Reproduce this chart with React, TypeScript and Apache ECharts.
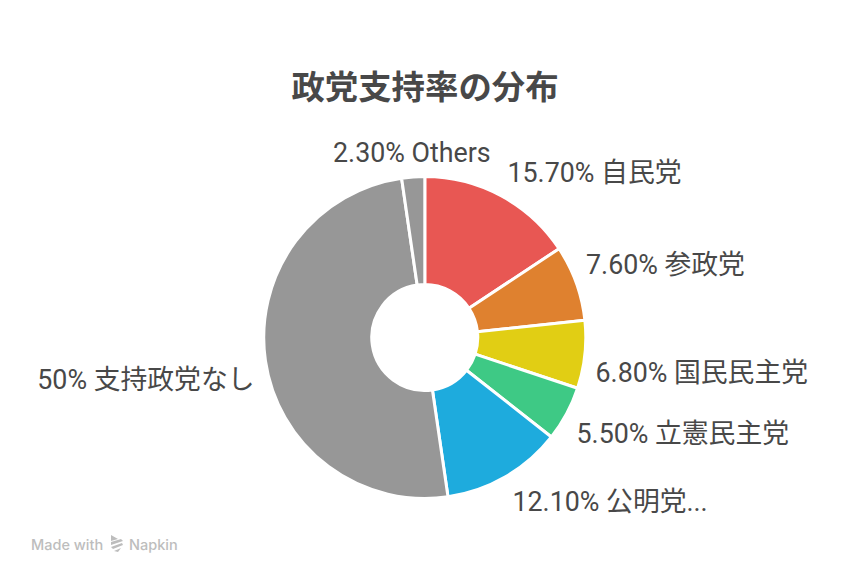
import React, { useEffect, useRef } from "react";
import * as echarts from "echarts";

const titleText = "政党支持率の分布";
const categories = ["15.70% 自民党", "7.60% 参政党", "6.80% 国民民主党", "5.50% 立憲民主党", "12.10% 公明党...", "50% 支持政党なし", "2.30% Others"];
const values = [15.7, 7.6, 6.8, 5.5, 12.1, 50, 2.3];
const colors = ["#E85753", "#DF812F", "#E1CE14", "#3EC985", "#1EABDD", "#979797", "#979797"];

const LABEL_SPOTS = [
  { x: 507.5, y: 172.5, align: "left" },
  { x: 586, y: 264.5, align: "left" },
  { x: 595.5, y: 372.5, align: "left" },
  { x: 576.5, y: 433.5, align: "left" },
  { x: 512.5, y: 501.5, align: "left" },
  { x: 254.5, y: 379.5, align: "right" },
  { x: 333, y: 152.5, align: "left" },
];

export default function App() {
  const ref = useRef<HTMLDivElement>(null);
  useEffect(() => {
    const chart = echarts.init(ref.current!, null, { renderer: "svg" });
    chart.setOption({
      animation: false,
      backgroundColor: "#fff",
      title: {
        text: titleText, left: 420, top: 63, textAlign: "center",
        textStyle: { fontFamily: "Noto Sans CJK JP", fontSize: 33.4, fontWeight: 700, color: "#484848" },
      },
      series: [{
        type: "pie", center: [424.8, 337.5], radius: [53, 161], startAngle: 90, clockwise: true,
        data: values.map((v, i) => ({ value: v, name: categories[i], itemStyle: { color: colors[i] } })),
        itemStyle: { borderColor: "#fff", borderWidth: 3 },
        label: {
          show: true, position: "outside", formatter: "{b}", color: "#484848",
          fontFamily: 'Roboto, "Noto Sans CJK JP"', fontSize: 26.8, fontWeight: 400,
          width: 320, overflow: "none",
        },
        labelLine: { show: false },
        labelLayout: (p: any) => ({ ...LABEL_SPOTS[p.dataIndex], verticalAlign: "middle" }),
        emphasis: { disabled: true },
      }],
      graphic: [
        { type: "text", x: 31, y: 544, style: { text: "Made with", fill: "#BDBDBD", font: "500 14.5px Inter", textVerticalAlign: "middle" } },
        { type: "text", x: 129, y: 544, style: { text: "Napkin", fill: "#BDBDBD", font: "500 14.5px Inter", textVerticalAlign: "middle" } },
        { type: "polygon", shape: { points: [[111, 535], [118, 539], [111, 541]] }, style: { fill: "#BDBDBD" } },
        { type: "polygon", shape: { points: [[111, 542], [121, 539], [123, 541], [111, 545]] }, style: { fill: "#BDBDBD" } },
        { type: "polygon", shape: { points: [[111, 547], [122, 543], [123, 545], [113, 549]] }, style: { fill: "#BDBDBD" } },
        { type: "polygon", shape: { points: [[114, 551], [121, 548], [118, 552]] }, style: { fill: "#BDBDBD" } },
      ],
    });
    return () => chart.dispose();
  }, []);
  return <div ref={ref} style={{ width: 850, height: 581, position: "absolute", left: 0, top: 0 }} />;
}
